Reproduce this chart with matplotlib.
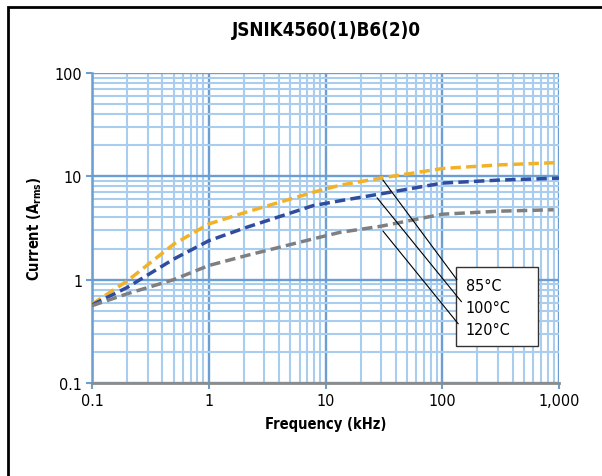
import matplotlib.pyplot as plt
from matplotlib.patches import Rectangle
from matplotlib.ticker import FuncFormatter, LogLocator, NullFormatter

plt.rcParams['font.family'] = ['DejaVu Sans']
plt.rcParams['font.stretch'] = 'condensed'

# Data (frequency in kHz, current in A rms)
freq_85 = [0.1, 0.2, 0.5, 1, 2.09, 7.8, 13.3, 29.4, 100, 306, 1000]
curr_85 = [0.58, 0.97, 2.2, 3.46, 4.5, 7.0, 8.2, 9.6, 11.9, 12.9, 13.6]

freq_100 = [0.1, 0.2, 0.5, 1, 2.09, 7.8, 13.3, 29.4, 100, 306, 1000]
curr_100 = [0.57, 0.84, 1.58, 2.38, 3.2, 5.2, 5.8, 6.75, 8.6, 9.2, 9.6]

freq_120 = [0.1, 0.2, 0.5, 1, 2.09, 7.8, 13.3, 29.4, 100, 306, 900]
curr_120 = [0.56, 0.73, 1.0, 1.37, 1.71, 2.48, 2.87, 3.28, 4.3, 4.6, 4.75]

labels = ['85°C', '100°C', '120°C']
colors = ['#F2B227', '#2F4C9F', '#7F7F7F']

# where the leader lines touch each curve
leader_x = [30, 26.7, 30]
leader_y = [9.7, 6.5, 3.1]

fig = plt.figure(figsize=(6.02, 4.77), dpi=100)
ax = fig.add_axes([92 / 602, 1 - 384 / 477, 467 / 602, 310 / 477])

for fx, cy, c in zip([freq_85, freq_100, freq_120], [curr_85, curr_100, curr_120], colors):
    ax.plot(fx, cy, color=c, lw=2.5, linestyle=(0, (3, 1.5)), zorder=3)

ax.set_xscale('log')
ax.set_yscale('log')
ax.set_xlim(0.1, 1000)
ax.set_ylim(0.1, 100)

ax.xaxis.set_major_locator(LogLocator(base=10, numticks=10))
ax.yaxis.set_major_locator(LogLocator(base=10, numticks=10))
ax.xaxis.set_minor_locator(LogLocator(base=10, subs=range(2, 10), numticks=20))
ax.yaxis.set_minor_locator(LogLocator(base=10, subs=range(2, 10), numticks=20))
fmt = FuncFormatter(lambda v, p: '{:,}'.format(int(v)) if v >= 1 else '{:g}'.format(v))
ax.xaxis.set_major_formatter(fmt)
ax.yaxis.set_major_formatter(fmt)
ax.xaxis.set_minor_formatter(NullFormatter())
ax.yaxis.set_minor_formatter(NullFormatter())

ax.grid(which='minor', color='#A9CDEE', lw=1.5, zorder=0)
ax.grid(which='major', color='#6A9FD4', lw=1.7, zorder=1)
ax.set_axisbelow(True)

for s in ['top', 'right']:
    ax.spines[s].set_visible(False)
ax.spines['left'].set_color('#6A9FD4')
ax.spines['left'].set_linewidth(1.8)
ax.spines['bottom'].set_color('#8C8C8C')
ax.spines['bottom'].set_linewidth(2)
ax.tick_params(which='major', length=4, width=1.5, color='#6A9FD4', labelsize=11.5, pad=3)
ax.tick_params(which='minor', length=0)

ax.set_xlabel('Frequency (kHz)', fontsize=10.5, fontweight='bold', labelpad=6)
ax.set_ylabel('Current (A$_{\\mathregular{rms}}$)', fontsize=10.5, fontweight='bold', labelpad=8)
fig.text(326 / 602, 1 - 31 / 477, 'JSNIK4560(1)B6(2)0', ha='center', va='center',
         fontsize=13.5, fontweight='bold')

# label box with leader lines
ax.add_patch(Rectangle((0.78, 0.119), 0.175, 0.255, transform=ax.transAxes,
                       facecolor='white', edgecolor='#333333', lw=1, zorder=5))
text_y = [0.316, 0.245, 0.174]
end_pts = [(0.785, 0.326), (0.795, 0.255), (0.788, 0.184)]
for lab, ty, lx, ly, ep in zip(labels, text_y, leader_x, leader_y, end_pts):
    ax.text(0.80, ty, lab, transform=ax.transAxes, fontsize=11.5, va='center', zorder=6)
    ax.annotate('', xy=(lx, ly), xycoords='data', xytext=ep, textcoords='axes fraction',
                arrowprops=dict(arrowstyle='-', color='black', lw=0.8), zorder=6)

# outer frame (runs off the right and bottom edges)
fig.add_artist(Rectangle((8 / 602, -0.1), 1.2, 1 - 8 / 477 + 0.1, transform=fig.transFigure,
                         fill=False, edgecolor='black', lw=2))

fig.savefig('out.png', dpi=100)
